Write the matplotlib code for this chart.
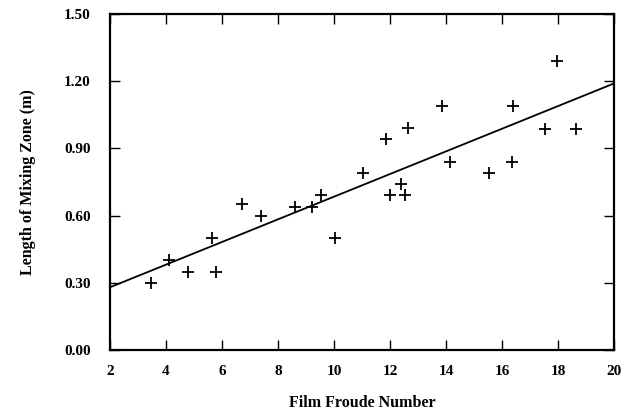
import numpy as np
import matplotlib
matplotlib.use("Agg")
import matplotlib.pyplot as plt

# measured mixing-zone lengths against film Froude number
froude = [3.45, 4.1, 4.8, 5.8, 5.65, 6.7, 7.4, 8.6, 9.2, 9.55, 10.05,
          11.05, 11.85, 12.0, 12.4, 12.55, 12.65, 13.85, 14.15,
          15.55, 16.35, 16.4, 17.55, 17.95, 18.65]
mix_len = [0.30, 0.40, 0.35, 0.35, 0.50, 0.65, 0.60, 0.64, 0.64, 0.69, 0.50,
           0.79, 0.94, 0.69, 0.74, 0.69, 0.99, 1.09, 0.84,
           0.79, 0.84, 1.09, 0.985, 1.29, 0.985]

# least-squares fit line, end points
fit_x = [2, 20]
fit_y = [0.28, 1.19]

xticks = [2, 4, 6, 8, 10, 12, 14, 16, 18, 20]
yticks = [0.0, 0.3, 0.6, 0.9, 1.2, 1.5]

plt.rcParams['font.family'] = ['Liberation Serif', 'DejaVu Serif']
plt.rcParams['font.weight'] = 'bold'

fig = plt.figure(figsize=(6.29, 4.17), dpi=100)
ax = fig.add_axes([110 / 629, 1 - 350 / 417, 504 / 629, 336 / 417])

ax.plot(fit_x, fit_y, color='black', lw=1.3)
ax.plot(froude, mix_len, ls='none', marker='+', ms=9, mew=1.3, color='black')

ax.set_xlim(2, 20)
ax.set_ylim(0, 1.5)
ax.set_xticks(xticks)
ax.set_yticks(yticks)
ax.set_xticklabels([str(t) for t in xticks])
ax.set_yticklabels([f"{t:.2f}" for t in yticks])
ax.tick_params(direction='in', length=7, width=1.0, labelsize=11,
               top=True, right=True, pad=11)
ax.tick_params(axis='y', pad=14)
for sp in ax.spines.values():
    sp.set_linewidth(1.6)

ax.set_xlabel('Film Froude Number', fontsize=11.5, fontweight='bold', labelpad=12)
ax.set_ylabel('Length of Mixing Zone (m)', fontsize=11.5, fontweight='bold', labelpad=20)

fig.savefig('out.png', dpi=100)
